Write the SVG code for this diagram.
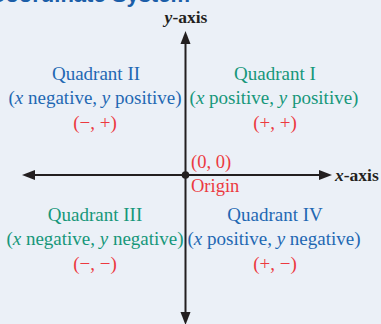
<svg xmlns="http://www.w3.org/2000/svg" width="381" height="324" viewBox="0 0 381 324">
<style>
.q{font-family:"Liberation Serif","Times New Roman",serif;font-size:19px;text-anchor:middle}
.blue{fill:#1f68b3}
.green{fill:#16977a}
.red{fill:#ec3940}
.ax{font-family:"Liberation Serif","Times New Roman",serif;font-size:17.5px;font-weight:bold;fill:#231f20}
.axis{stroke:#231f20;stroke-width:2;fill:none}
</style>
<rect width="381" height="324" fill="#ebf0f7"/>
<text x="190" y="2" font-family="Liberation Sans, Arial, sans-serif" font-size="22" font-weight="bold" fill="#1b5ea8" text-anchor="end">Coordinate System</text>
<g id="connectors">
<line class="axis" x1="185.5" y1="40" x2="185.5" y2="316"/>
<polygon points="185.5,31 180.5,44 190.5,44" fill="#231f20"/>
<polygon points="185.5,325 180.5,312 190.5,312" fill="#231f20"/>
<line class="axis" x1="30" y1="175" x2="324" y2="175"/>
<polygon points="22,175 35,170 35,180" fill="#231f20"/>
<polygon points="332,175 319,170 319,180" fill="#231f20"/>
</g>
<g id="y-axis-label"><text class="ax" x="186" y="23" text-anchor="middle"><tspan font-style="italic">y</tspan>-axis</text></g>
<g id="x-axis-label"><text class="ax" x="335" y="181"><tspan font-style="italic">x</tspan>-axis</text></g>
<g id="origin">
<circle cx="185.5" cy="175" r="3.8" fill="#231f20"/>
<text class="q red" x="191" y="168" style="text-anchor:start;font-size:18.5px">(0, 0)</text>
<text class="q red" x="191" y="192" style="text-anchor:start;font-size:18.5px">Origin</text>
</g>
<g id="quadrant-2">
<text class="q blue" x="96" y="80">Quadrant II</text>
<text class="q blue" x="95" y="104">(<tspan font-style="italic">x</tspan> negative, <tspan font-style="italic">y</tspan> positive)</text>
<text class="q red" x="95" y="129">(−, +)</text>
</g>
<g id="quadrant-1">
<text class="q green" x="275" y="80">Quadrant I</text>
<text class="q green" x="274" y="104">(<tspan font-style="italic">x</tspan> positive, <tspan font-style="italic">y</tspan> positive)</text>
<text class="q red" x="275" y="129">(+, +)</text>
</g>
<g id="quadrant-3">
<text class="q green" x="95" y="221">Quadrant III</text>
<text class="q green" x="95" y="245">(<tspan font-style="italic">x</tspan> negative, <tspan font-style="italic">y</tspan> negative)</text>
<text class="q red" x="95" y="270">(−, −)</text>
</g>
<g id="quadrant-4">
<text class="q blue" x="275" y="221">Quadrant IV</text>
<text class="q blue" x="274" y="245">(<tspan font-style="italic">x</tspan> positive, <tspan font-style="italic">y</tspan> negative)</text>
<text class="q red" x="275" y="270">(+, −)</text>
</g>
</svg>
